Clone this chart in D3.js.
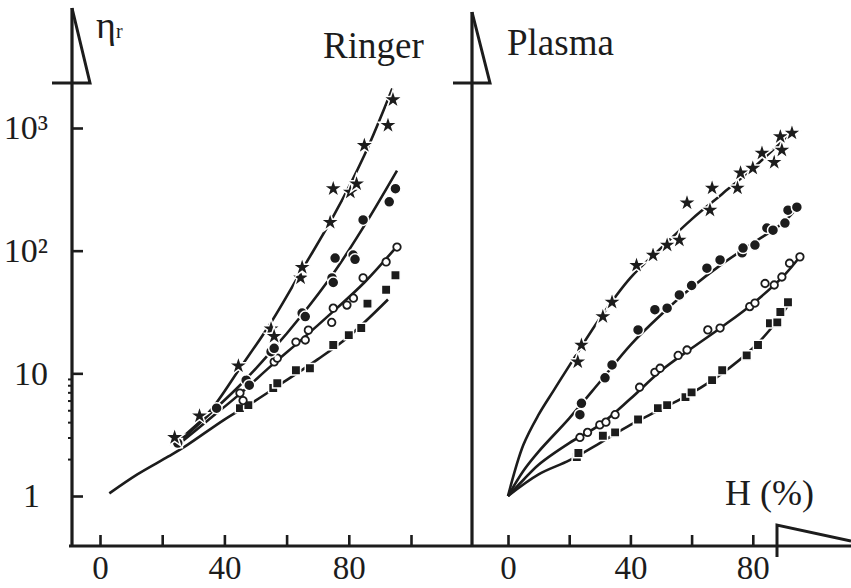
<!DOCTYPE html>
<html>
<head>
<meta charset="utf-8">
<script src="https://cdn.jsdelivr.net/npm/d3@7"></script>
<style>
  body { margin: 0; background: #fff; }
  svg text { font-family: "Liberation Serif", "DejaVu Serif", serif; fill: #1c1c1c; }
</style>
</head>
<body>
<script>
// axis ticks
const hTicksLeft = [0, 20, 40, 60, 80, 100];
const hTicksRight = [0, 20, 40, 60, 80];
const hLabels = [0, 40, 80];
const etaTicks = [1, 10, 100, 1000];
const etaMinor = [2, 3, 4, 5, 6, 7, 8, 9];

// Ringer: measured points [H %, eta_r]
const ringerStars = [[24, 3.0], [32, 4.5], [44.5, 11.5], [55, 23], [56, 20], [64.5, 60], [65, 73], [74, 170], [75, 320], [80.5, 300], [82.5, 350], [85, 720], [92.6, 1050], [94.2, 1700]];
const ringerDots = [[25, 2.7], [37.5, 5.2], [47, 8.8], [48, 8], [55, 15], [56, 16], [65, 31], [66, 29], [74.6, 60], [75, 55], [75.6, 87], [81.4, 92], [82, 85], [84.6, 178], [93, 250], [95, 320]];
const ringerRings = [[45, 6.9], [46, 6], [56, 12.4], [57, 13.3], [63, 18], [66, 18.7], [67, 22.5], [74.5, 26], [75, 34], [79.4, 36], [81.5, 41], [84.6, 60], [92, 81], [95.5, 107]];
const ringerSquares = [[25, 2.7], [45, 5.2], [47.7, 5.5], [55.7, 7.6], [57, 8.3], [63, 10.6], [67.5, 11], [75, 17], [80, 20.5], [84, 23.4], [86, 37], [92, 48], [95, 63]];

// Ringer: fitted curves
const ringerFitStars = [[25, 2.8], [35, 4.8], [45, 11], [55, 26], [65, 70], [75, 190], [85, 600], [94, 2100]];
const ringerFitDots = [[25, 2.7], [35, 4.6], [45, 8], [55, 15], [65, 30], [75, 65], [85, 160], [95.5, 450]];
const ringerFitRings = [[25, 2.6], [35, 4.2], [45, 6.8], [55, 11.5], [65, 19], [75, 32], [85, 55], [95, 105]];
const ringerFitSquares = [[3, 1.05], [12, 1.5], [22, 2.1], [28, 2.6], [40, 4.2], [50, 6], [60, 8.8], [70, 13], [80, 20], [92.6, 40]];

// Plasma: measured points
const plasmaStars = [[22.8, 12.4], [24, 17], [31, 29], [34, 38], [42, 76], [47.4, 92], [52, 111], [56, 122], [58.5, 245], [66, 214], [66.7, 324], [75, 324], [76, 430], [80, 470], [83, 624], [87, 525], [89.5, 660], [89, 850], [92.8, 910]];
const plasmaDots = [[23.5, 4.6], [24, 5.7], [31.7, 9.2], [34, 11.7], [42.5, 22.6], [48, 33], [52, 34], [56, 43.6], [60, 52], [65, 72], [69.3, 84], [76.5, 96], [76.8, 105], [80.7, 111], [84.6, 153], [86.6, 147], [90.5, 168], [91.5, 214], [94.4, 226]];
const plasmaRings = [[23.5, 3.0], [26, 3.3], [30, 3.8], [32, 4.0], [35, 4.6], [43, 7.7], [48, 10.2], [49.7, 11], [55.6, 14], [58.5, 15.5], [65.3, 22.6], [69.3, 23.4], [79, 35], [80.7, 37.4], [84, 54], [87, 52.5], [89.5, 61], [92, 79], [95.4, 89]];
const plasmaSquares = [[22.5, 2.08], [23, 2.24], [31, 3.1], [35, 3.3], [42.5, 4.2], [49, 5.2], [52, 5.5], [58, 6.4], [60, 7.0], [66.7, 8.8], [70, 10.6], [78, 14], [81.7, 17], [85.6, 25.6], [88, 26], [89, 31.6], [91.5, 38]];

// Plasma: fitted curves (all start at H=0, eta=1)
const plasmaFitStars = [[0, 1], [5, 2.6], [10, 4.6], [15, 7.3], [20, 11.5], [30, 28], [40, 60], [50, 105], [60, 180], [70, 290], [80, 470], [93, 930]];
const plasmaFitDots = [[0, 1], [5, 1.6], [10, 2.3], [20, 4.3], [30, 8.5], [40, 17], [50, 30], [60, 50], [70, 78], [80, 115], [90, 170], [95.5, 240]];
const plasmaFitRings = [[0, 1], [5, 1.35], [10, 1.8], [20, 2.7], [30, 3.8], [40, 6.2], [50, 10.5], [60, 16], [70, 24], [80, 37], [90, 62], [95.5, 90]];
const plasmaFitSquares = [[0, 1], [10, 1.5], [20, 1.95], [30, 2.7], [40, 3.8], [50, 5.1], [60, 6.9], [70, 10], [80, 16], [87, 25], [92.8, 40]];

const width = 851, height = 588;
const ink = "#1c1c1c";
const axisY = 546;

const svg = d3.select("body").append("svg")
    .attr("width", width)
    .attr("height", height);

const xL = d3.scaleLinear().domain([0, 100]).range([100, 411]);
const xR = d3.scaleLinear().domain([0, 100]).range([508, 814]);
const y = d3.scaleLog().domain([1, 1000]).range([496, 128]);

// marker styles
const markers = {
    star:   { type: d3.symbolStar, size: 115, fill: ink, stroke: "#fff", sw: 1.5 },
    dot:    { type: d3.symbolCircle, size: 95, fill: ink, stroke: "#fff", sw: 1.5 },
    ring:   { type: d3.symbolCircle, size: 44, fill: "#fff", stroke: ink, sw: 1.8 },
    square: { type: d3.symbolSquare, size: 88, fill: ink, stroke: "#fff", sw: 1.5 }
};

function drawPanel(x, fits, points) {
    const g = svg.append("g");
    const line = d3.line()
        .x(d => x(d[0]))
        .y(d => y(d[1]))
        .curve(d3.curveCatmullRom);

    fits.forEach(f => {
        g.append("path")
            .attr("d", line(f))
            .attr("fill", "none")
            .attr("stroke", ink)
            .attr("stroke-width", 2.6);
    });

    points.forEach(p => {
        const m = markers[p.kind];
        const sym = d3.symbol().type(m.type).size(m.size);
        g.selectAll(null)
            .data(p.data)
            .enter()
            .append("path")
            .attr("d", sym)
            .attr("transform", d => `translate(${x(d[0])},${y(d[1])})`)
            .attr("fill", m.fill)
            .attr("stroke", m.stroke)
            .attr("stroke-width", m.sw);
    });
}

drawPanel(xL,
    [ringerFitStars, ringerFitDots, ringerFitRings, ringerFitSquares],
    [
        { kind: "square", data: ringerSquares },
        { kind: "ring", data: ringerRings },
        { kind: "dot", data: ringerDots },
        { kind: "star", data: ringerStars }
    ]);

drawPanel(xR,
    [plasmaFitStars, plasmaFitDots, plasmaFitRings, plasmaFitSquares],
    [
        { kind: "square", data: plasmaSquares },
        { kind: "ring", data: plasmaRings },
        { kind: "dot", data: plasmaDots },
        { kind: "star", data: plasmaStars }
    ]);

// ---- axes ----
const axes = svg.append("g").attr("stroke", ink).attr("fill", "none");

// shared horizontal axis line
axes.append("line")
    .attr("x1", 69).attr("x2", width)
    .attr("y1", axisY).attr("y2", axisY)
    .attr("stroke-width", 3);

// vertical axes with the triangular arrow heads
axes.append("line").attr("x1", 72).attr("x2", 72).attr("y1", axisY).attr("y2", 8).attr("stroke-width", 3.2);
axes.append("path").attr("d", "M72,8 L90,83 L52,83").attr("stroke-width", 3).attr("stroke-linejoin", "miter");
axes.append("line").attr("x1", 472).attr("x2", 472).attr("y1", axisY).attr("y2", 12).attr("stroke-width", 3.2);
axes.append("path").attr("d", "M472,12 L490,83 L453,83").attr("stroke-width", 3).attr("stroke-linejoin", "miter");

// arrow head on the H axis
axes.append("path").attr("d", "M777,557 L777,525 L851,541").attr("stroke-width", 3);

function hAxis(x, ticks) {
    svg.append("g")
        .attr("transform", `translate(0,${axisY})`)
        .call(d3.axisBottom(x)
            .tickValues(ticks)
            .tickSizeInner(-11)
            .tickSizeOuter(0)
            .tickPadding(10)
            .tickFormat(d => hLabels.includes(d) ? d : ""))
        .call(g => g.select(".domain").remove())
        .call(g => g.selectAll("line").attr("stroke", ink).attr("stroke-width", 2.6))
        .call(g => g.selectAll("text")
            .attr("font-size", 33)
            .attr("dy", "0.7em")
            .style("font-family", "Liberation Serif, serif")
            .attr("fill", ink));
}
hAxis(xL, hTicksLeft);
hAxis(xR, hTicksRight);

// log eta axis on the left panel
const supers = { 100: "10\u00B2", 1000: "10\u00B3", 10: "10", 1: "1" };
svg.append("g")
    .attr("transform", "translate(72,0)")
    .call(d3.axisLeft(y)
        .tickValues(etaTicks)
        .tickSizeInner(-11)
        .tickSizeOuter(0)
        .tickPadding(24)
        .tickFormat(d => supers[d]))
    .call(g => g.select(".domain").remove())
    .call(g => g.selectAll("line").attr("stroke", ink).attr("stroke-width", 2.6))
    .call(g => g.selectAll("text")
        .attr("font-size", 34)
        .attr("dy", "0.32em")
        .style("font-family", "Liberation Serif, serif")
        .attr("fill", ink))
    .call(g => g.selectAll(".tick").filter(d => d === 1).select("text").attr("dx", -8));

svg.append("g")
    .attr("transform", "translate(72,0)")
    .call(d3.axisLeft(y).tickValues(etaMinor).tickSizeInner(4).tickSizeOuter(0).tickFormat(""))
    .call(g => g.select(".domain").remove())
    .call(g => g.selectAll("line").attr("stroke", ink).attr("stroke-width", 2));

// ---- labels ----
const eta = svg.append("text").attr("x", 96).attr("y", 38).attr("font-size", 38).text("\u03B7");
eta.append("tspan").attr("font-size", 20).attr("dy", 0).text("r");

svg.append("text").attr("x", 323).attr("y", 58).attr("font-size", 37).text("Ringer");
svg.append("text").attr("x", 507).attr("y", 55).attr("font-size", 37).text("Plasma");
svg.append("text").attr("x", 725).attr("y", 505).attr("font-size", 36).text("H (%)");
</script>
</body>
</html>
